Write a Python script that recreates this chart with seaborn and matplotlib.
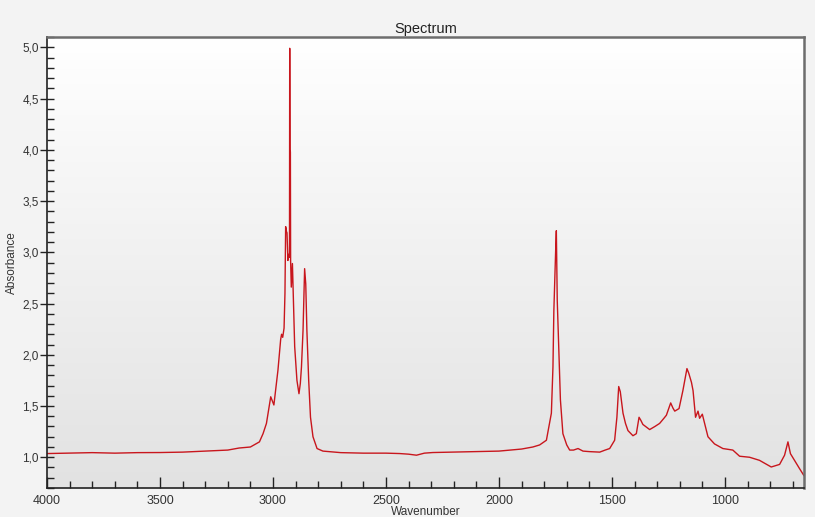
import numpy as np
import pandas as pd
import seaborn as sns
from matplotlib import pyplot as plt
from matplotlib.colors import LinearSegmentedColormap
from matplotlib.ticker import MultipleLocator, FuncFormatter

# IR spectrum (wavenumber in cm-1, absorbance)
wavenumber = [4000, 3900, 3800, 3700, 3600, 3500, 3400, 3300, 3200, 3150,
              3100, 3060, 3044, 3029, 3018, 3010, 3003, 2996, 2987, 2978,
              2966, 2962, 2957, 2951, 2947, 2944, 2940, 2938, 2934, 2930,
              2927, 2926, 2925, 2923, 2922, 2919, 2914, 2909, 2904, 2894,
              2885, 2879, 2874, 2867, 2860, 2855, 2850, 2842, 2834, 2823,
              2805, 2779, 2700, 2600, 2500, 2439, 2400, 2365, 2330, 2293,
              2200, 2100, 2000, 1900, 1850, 1820, 1790, 1768, 1761, 1757,
              1749, 1746, 1742, 1734, 1728, 1717, 1700, 1687, 1670, 1650,
              1628, 1600, 1554, 1530, 1510, 1488, 1478, 1470, 1463, 1451,
              1440, 1429, 1407, 1392, 1380, 1372, 1363, 1333, 1310, 1289,
              1270, 1259, 1240, 1230, 1222, 1203, 1186, 1168, 1160, 1148,
              1141, 1130, 1119, 1112, 1100, 1090, 1075, 1046, 1009, 965,
              935, 891, 847, 795, 758, 736, 721, 710, 692, 670, 650]
absorbance = [1.036, 1.04, 1.045, 1.04, 1.045, 1.046, 1.05, 1.06, 1.07, 1.09,
              1.10, 1.15, 1.23, 1.33, 1.48, 1.59, 1.55, 1.51, 1.68, 1.85,
              2.15, 2.20, 2.17, 2.26, 2.60, 3.25, 3.20, 3.19, 2.92, 2.98,
              2.95, 4.99, 4.00, 3.98, 2.92, 2.66, 2.89, 2.50, 2.08, 1.75,
              1.62, 1.72, 1.88, 2.24, 2.84, 2.69, 2.24, 1.75, 1.39, 1.20,
              1.085, 1.06, 1.045, 1.04, 1.04, 1.036, 1.03, 1.02, 1.04, 1.046,
              1.05, 1.055, 1.06, 1.08, 1.10, 1.12, 1.166, 1.43, 1.88, 2.43,
              3.02, 3.21, 2.53, 1.98, 1.56, 1.23, 1.12, 1.07, 1.07, 1.085,
              1.06, 1.055, 1.05, 1.07, 1.085, 1.166, 1.39, 1.69, 1.64, 1.43,
              1.33, 1.26, 1.21, 1.23, 1.39, 1.36, 1.32, 1.27, 1.30, 1.33,
              1.38, 1.41, 1.53, 1.48, 1.45, 1.475, 1.65, 1.865, 1.82, 1.73,
              1.65, 1.39, 1.45, 1.38, 1.42, 1.33, 1.20, 1.13, 1.085, 1.07,
              1.01, 1.00, 0.97, 0.905, 0.93, 1.02, 1.15, 1.035, 0.97, 0.89, 0.82]

df = pd.DataFrame({'Wavenumber': wavenumber, 'Absorbance': absorbance})

sns.set_style("white")
plt.rcParams['font.family'] = ['Liberation Sans', 'DejaVu Sans']

fig = plt.figure(figsize=(8.15, 5.17), dpi=100, facecolor='#f3f3f3')
ax = fig.add_axes([0.0577, 0.0561, 0.9288, 0.8723])

# light vertical gradient behind the curve
grad = np.linspace(0, 1, 256).reshape(-1, 1)
bg_cmap = LinearSegmentedColormap.from_list('bg', ['#ffffff', '#e2e2e2'])
ax.imshow(grad, cmap=bg_cmap, aspect='auto', extent=[0, 1, 0, 1],
          transform=ax.transAxes, origin='upper', zorder=0)

sns.lineplot(data=df, x='Wavenumber', y='Absorbance', color='#c8161d',
             linewidth=1.0, estimator=None, ax=ax, zorder=2)

ax.set_xlim(4000, 650)
ax.set_ylim(0.7, 5.1)

ax.xaxis.set_major_locator(MultipleLocator(500))
ax.xaxis.set_minor_locator(MultipleLocator(100))
ax.yaxis.set_major_locator(MultipleLocator(0.5))
ax.yaxis.set_minor_locator(MultipleLocator(0.1))
ax.yaxis.set_major_formatter(FuncFormatter(lambda v, p: f"{v:.1f}".replace('.', ',')))
ax.xaxis.set_major_formatter(FuncFormatter(lambda v, p: f"{int(v)}"))

# seaborn's white style hides ticks, switch them back on
ax.tick_params(bottom=True, left=True, which='both')
ax.tick_params(axis='x', which='major', direction='in', length=8, width=1,
               color='#222222', labelsize=9, pad=5, labelcolor='#333333')
ax.tick_params(axis='x', which='minor', direction='in', length=5, width=1,
               color='#222222')
ax.tick_params(axis='y', which='major', direction='inout', length=10, width=1,
               color='#222222', labelsize=8.5, pad=1, labelcolor='#333333')
ax.tick_params(axis='y', which='minor', direction='in', length=5, width=1,
               color='#222222')

for side in ['left', 'bottom']:
    ax.spines[side].set_color('#222222')
    ax.spines[side].set_linewidth(1.2)
for side in ['top', 'right']:
    ax.spines[side].set_color('#6d6d6d')
    ax.spines[side].set_linewidth(1.8)

ax.set_title("Spectrum", fontsize=10.5, color='#222222', pad=3)
ax.set_xlabel("Wavenumber", fontsize=8.5, color='#333333', labelpad=-1)
ax.set_ylabel("Absorbance", fontsize=8.5, color='#333333', labelpad=3)

plt.savefig('out.png', dpi=100, facecolor=fig.get_facecolor())
